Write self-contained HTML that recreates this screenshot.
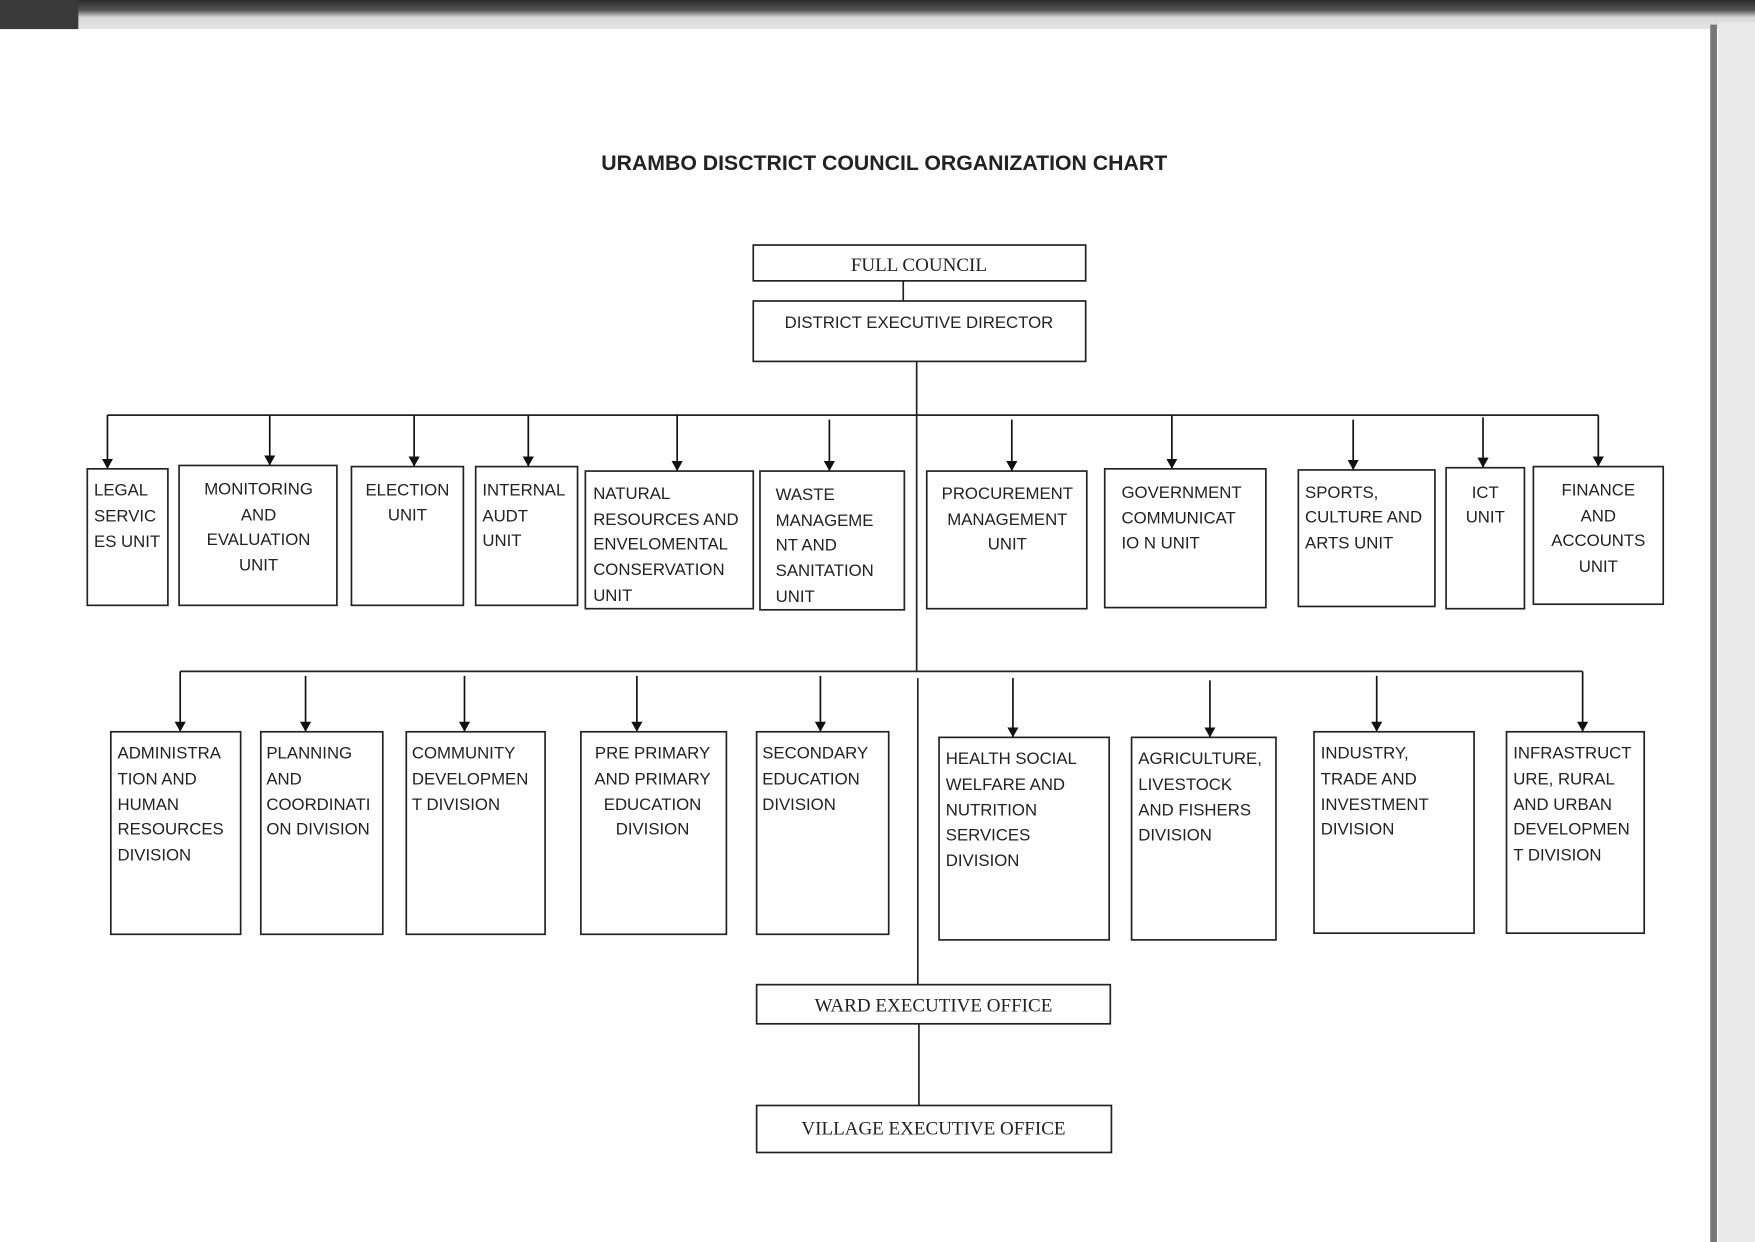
<!DOCTYPE html>
<html><head><meta charset="utf-8"><style>
html,body{margin:0;padding:0;background:#fff;width:1755px;height:1242px;overflow:hidden}
svg{display:block}
text{font-family:"Liberation Sans",sans-serif;font-size:15px;fill:#222}
.s{font-family:"Liberation Serif",serif;font-size:17px}
</style></head><body>
<svg width="1755" height="1242" viewBox="0 0 1568 1110" preserveAspectRatio="none">
<defs>
<linearGradient id="tg" x1="0" y1="0" x2="0" y2="1"><stop offset="0" stop-color="#2a2a2a"/><stop offset="0.35" stop-color="#555"/><stop offset="0.6" stop-color="#d8d8d8"/><stop offset="1" stop-color="#e6e6e6"/></linearGradient>
<marker id="a" markerWidth="10" markerHeight="10" refX="9" refY="5" orient="auto" markerUnits="userSpaceOnUse"><path d="M0,0 L9,5 L0,10 Z" fill="#111"/></marker>
</defs>
<rect x="0" y="0" width="1568" height="1110" fill="#fff"/>
<rect x="0" y="0" width="1568" height="26" fill="url(#tg)"/>
<rect x="0" y="0" width="70" height="26" fill="#3a3a3a"/>
<rect x="1535" y="20" width="33" height="1090" fill="#e9e9e9"/>
<rect x="1528" y="22" width="6" height="1088" fill="#777"/>
<text x="790" y="152" text-anchor="middle" style="font-size:19px;font-weight:bold;fill:#222">URAMBO DISCTRICT COUNCIL ORGANIZATION CHART</text>
<g fill="none" stroke="#222" stroke-width="1.5">
<rect x="673" y="219" width="297" height="32"/>
<rect x="673" y="269" width="297" height="54"/>
<line x1="807" y1="251" x2="807" y2="269"/>
<line x1="819" y1="323" x2="819" y2="600"/>
<line x1="820" y1="606" x2="820" y2="880"/>
<line x1="821" y1="915" x2="821" y2="988"/>
<line x1="96" y1="371" x2="1428" y2="371"/>
<line x1="161" y1="600" x2="1414" y2="600"/>
<rect x="78" y="419" width="72" height="122"/>
<rect x="160" y="416" width="141" height="125"/>
<rect x="314" y="417" width="100" height="124"/>
<rect x="425" y="417" width="91" height="124"/>
<rect x="523" y="421" width="150" height="123"/>
<rect x="679" y="421" width="129" height="124"/>
<rect x="828" y="421" width="143" height="123"/>
<rect x="987" y="419" width="144" height="124"/>
<rect x="1160" y="420" width="122" height="122"/>
<rect x="1292" y="418" width="70" height="126"/>
<rect x="1370" y="417" width="116" height="123"/>
<rect x="99" y="654" width="116" height="181"/>
<rect x="233" y="654" width="109" height="181"/>
<rect x="363" y="654" width="124" height="181"/>
<rect x="519" y="654" width="130" height="181"/>
<rect x="676" y="654" width="118" height="181"/>
<rect x="839" y="659" width="152" height="181"/>
<rect x="1011" y="659" width="129" height="181"/>
<rect x="1174" y="654" width="143" height="180"/>
<rect x="1346" y="654" width="123" height="180"/>
<rect x="676" y="880" width="316" height="35"/>
<rect x="676" y="988" width="317" height="42"/>
</g>
<g stroke="#111" stroke-width="1.5" marker-end="url(#a)">
<line x1="96" y1="371" x2="96" y2="419"/>
<line x1="241" y1="371" x2="241" y2="416"/>
<line x1="370" y1="371" x2="370" y2="417"/>
<line x1="472" y1="371" x2="472" y2="417"/>
<line x1="605" y1="371" x2="605" y2="421"/>
<line x1="741" y1="375" x2="741" y2="421"/>
<line x1="904" y1="375" x2="904" y2="421"/>
<line x1="1047" y1="371" x2="1047" y2="419"/>
<line x1="1209" y1="375" x2="1209" y2="420"/>
<line x1="1325" y1="373" x2="1325" y2="418"/>
<line x1="1428" y1="371" x2="1428" y2="417"/>
<line x1="161" y1="600" x2="161" y2="654"/>
<line x1="273" y1="604" x2="273" y2="654"/>
<line x1="415" y1="604" x2="415" y2="654"/>
<line x1="569" y1="604" x2="569" y2="654"/>
<line x1="733" y1="604" x2="733" y2="654"/>
<line x1="905" y1="606" x2="905" y2="659"/>
<line x1="1081" y1="608" x2="1081" y2="659"/>
<line x1="1230" y1="604" x2="1230" y2="654"/>
<line x1="1414" y1="600" x2="1414" y2="654"/>
</g>
<text class="s" x="821" y="242" text-anchor="middle">FULL COUNCIL</text>
<text x="821" y="293" text-anchor="middle">DISTRICT EXECUTIVE DIRECTOR</text>
<text class="s" x="834" y="904" text-anchor="middle">WARD EXECUTIVE OFFICE</text>
<text class="s" x="834" y="1014" text-anchor="middle">VILLAGE EXECUTIVE OFFICE</text>
<g>
<text x="84" y="443">LEGAL</text><text x="84" y="466">SERVIC</text><text x="84" y="489">ES UNIT</text>
<g text-anchor="middle"><text x="231" y="442">MONITORING</text><text x="231" y="465">AND</text><text x="231" y="487">EVALUATION</text><text x="231" y="510">UNIT</text>
<text x="364" y="443">ELECTION</text><text x="364" y="465">UNIT</text></g>
<text x="431" y="443">INTERNAL</text><text x="431" y="466">AUDT</text><text x="431" y="488">UNIT</text>
<text x="530" y="446">NATURAL</text><text x="530" y="469">RESOURCES AND</text><text x="530" y="491">ENVELOMENTAL</text><text x="530" y="514">CONSERVATION</text><text x="530" y="537">UNIT</text>
<text x="693" y="447">WASTE</text><text x="693" y="470">MANAGEME</text><text x="693" y="492">NT AND</text><text x="693" y="515">SANITATION</text><text x="693" y="538">UNIT</text>
<g text-anchor="middle"><text x="900" y="446">PROCUREMENT</text><text x="900" y="469">MANAGEMENT</text><text x="900" y="491">UNIT</text></g>
<text x="1002" y="445">GOVERNMENT</text><text x="1002" y="468">COMMUNICAT</text><text x="1002" y="490">IO N UNIT</text>
<text x="1166" y="445">SPORTS,</text><text x="1166" y="467">CULTURE AND</text><text x="1166" y="490">ARTS UNIT</text>
<g text-anchor="middle"><text x="1327" y="445">ICT</text><text x="1327" y="467">UNIT</text>
<text x="1428" y="443">FINANCE</text><text x="1428" y="466">AND</text><text x="1428" y="488">ACCOUNTS</text><text x="1428" y="511">UNIT</text></g>
<text x="105" y="678">ADMINISTRA</text><text x="105" y="701">TION AND</text><text x="105" y="724">HUMAN</text><text x="105" y="746">RESOURCES</text><text x="105" y="769">DIVISION</text>
<text x="238" y="678">PLANNING</text><text x="238" y="701">AND</text><text x="238" y="724">COORDINATI</text><text x="238" y="746">ON DIVISION</text>
<text x="368" y="678">COMMUNITY</text><text x="368" y="701">DEVELOPMEN</text><text x="368" y="724">T DIVISION</text>
<g text-anchor="middle"><text x="583" y="678">PRE PRIMARY</text><text x="583" y="701">AND PRIMARY</text><text x="583" y="724">EDUCATION</text><text x="583" y="746">DIVISION</text></g>
<text x="681" y="678">SECONDARY</text><text x="681" y="701">EDUCATION</text><text x="681" y="724">DIVISION</text>
<text x="845" y="683">HEALTH SOCIAL</text><text x="845" y="706">WELFARE AND</text><text x="845" y="729">NUTRITION</text><text x="845" y="751">SERVICES</text><text x="845" y="774">DIVISION</text>
<text x="1017" y="683">AGRICULTURE,</text><text x="1017" y="706">LIVESTOCK</text><text x="1017" y="729">AND FISHERS</text><text x="1017" y="751">DIVISION</text>
<text x="1180" y="678">INDUSTRY,</text><text x="1180" y="701">TRADE AND</text><text x="1180" y="724">INVESTMENT</text><text x="1180" y="746">DIVISION</text>
<text x="1352" y="678">INFRASTRUCT</text><text x="1352" y="701">URE, RURAL</text><text x="1352" y="724">AND URBAN</text><text x="1352" y="746">DEVELOPMEN</text><text x="1352" y="769">T DIVISION</text>
</g>
</svg>
</body></html>
